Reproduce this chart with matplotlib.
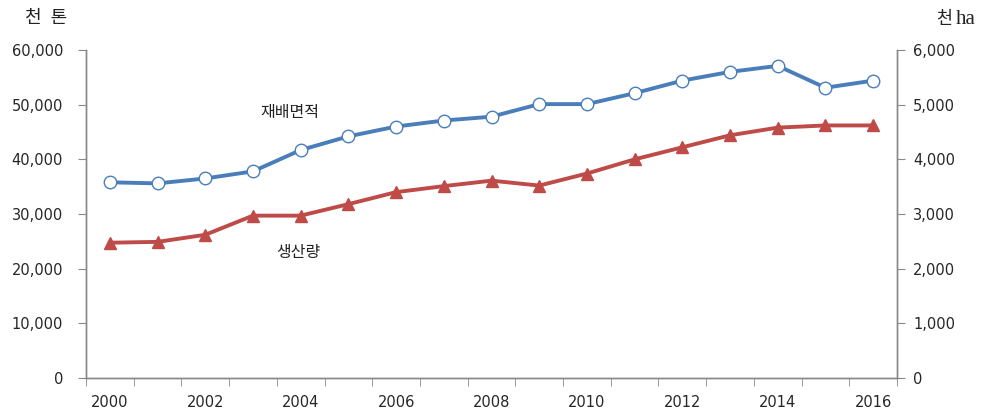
import matplotlib
matplotlib.use("Agg")
import matplotlib.pyplot as plt
from matplotlib.ticker import FuncFormatter, FixedLocator
import numpy as np

years = list(range(2000, 2017))
production = [24750, 24900, 26200, 29700, 29700, 31800, 34000, 35100, 36100,
              35200, 37400, 40000, 42200, 44400, 45800, 46200, 46200]  # 천 톤
area = [3580, 3560, 3650, 3780, 4170, 4420, 4600, 4710, 4780,
        5010, 5010, 5210, 5440, 5600, 5710, 5310, 5440]  # 천 ha
xlabels = [str(y) if (y - 2000) % 2 == 0 else "" for y in years]

plt.rcParams['font.family'] = ['DejaVu Sans', 'Noto Sans CJK KR']

fig = plt.figure(figsize=(9.89, 4.11), dpi=100)
ax = fig.add_axes([86/989, 1-378/411, (897-86)/989, (378-50)/411])
ax2 = ax.twinx()

x = np.arange(len(years))
blue = '#4a7ebb'
red = '#be4b48'

ax.plot(x, production, color=red, lw=2.8, marker='^', ms=9,
        markerfacecolor=red, markeredgecolor=red, zorder=3)
ax2.plot(x, area, color=blue, lw=2.8, marker='o', ms=9,
         markerfacecolor='white', markeredgecolor=blue, markeredgewidth=1.0, zorder=3)

ax.set_xlim(-0.5, len(years) - 0.5)
ax.set_ylim(0, 60000)
ax2.set_ylim(0, 6000)

ax.set_yticks(np.arange(0, 60001, 10000))
ax2.set_yticks(np.arange(0, 6001, 1000))
ax.yaxis.set_major_formatter(FuncFormatter(lambda v, p: f"{int(v):,}"))
ax2.yaxis.set_major_formatter(FuncFormatter(lambda v, p: f"{int(v):,}"))

ax.set_xticks(x)
ax.set_xticklabels(xlabels)
ax.xaxis.set_minor_locator(FixedLocator(np.arange(-0.5, len(years), 1.0)))
ax.tick_params(axis='x', which='major', length=0, pad=12, labelsize=10.5, colors='#262626')
ax.tick_params(axis='x', which='minor', length=5.5, color='#888888', direction='out')
ax.tick_params(axis='y', length=5.5, color='#888888', labelsize=10.5, labelcolor='#262626', pad=11)
ax2.tick_params(axis='y', length=5.5, color='#888888', labelsize=10.5, labelcolor='#262626', pad=6)

for a in (ax, ax2):
    a.spines['top'].set_visible(False)
    for s in ('left', 'right', 'bottom'):
        a.spines[s].set_color('#888888')
        a.spines[s].set_linewidth(1.0)

kfont = ['Noto Sans CJK KR', 'DejaVu Sans']
ax.text(290/989, 1-112/411, "재배면적", transform=fig.transFigure, ha='center', va='center',
        fontsize=11.5, color='#222222', family=kfont)
ax.text(298/989, 1-252/411, "생산량", transform=fig.transFigure, ha='center', va='center',
        fontsize=11.5, color='#222222', family=kfont)

sfont = ['Liberation Serif', 'Noto Sans CJK KR']
fig.text(46/989, 1-18/411, "천  톤", ha='center', va='center', fontsize=13,
         family=sfont, color='#222222')
fig.text(952/989, 1-24/411, "천", ha='right', va='baseline', fontsize=12.5,
         family=sfont, color='#222222')
fig.text(956/989, 1-24/411, "ha", ha='left', va='baseline', fontsize=15,
         family=sfont, color='#222222')

fig.savefig("out.png", dpi=100)
